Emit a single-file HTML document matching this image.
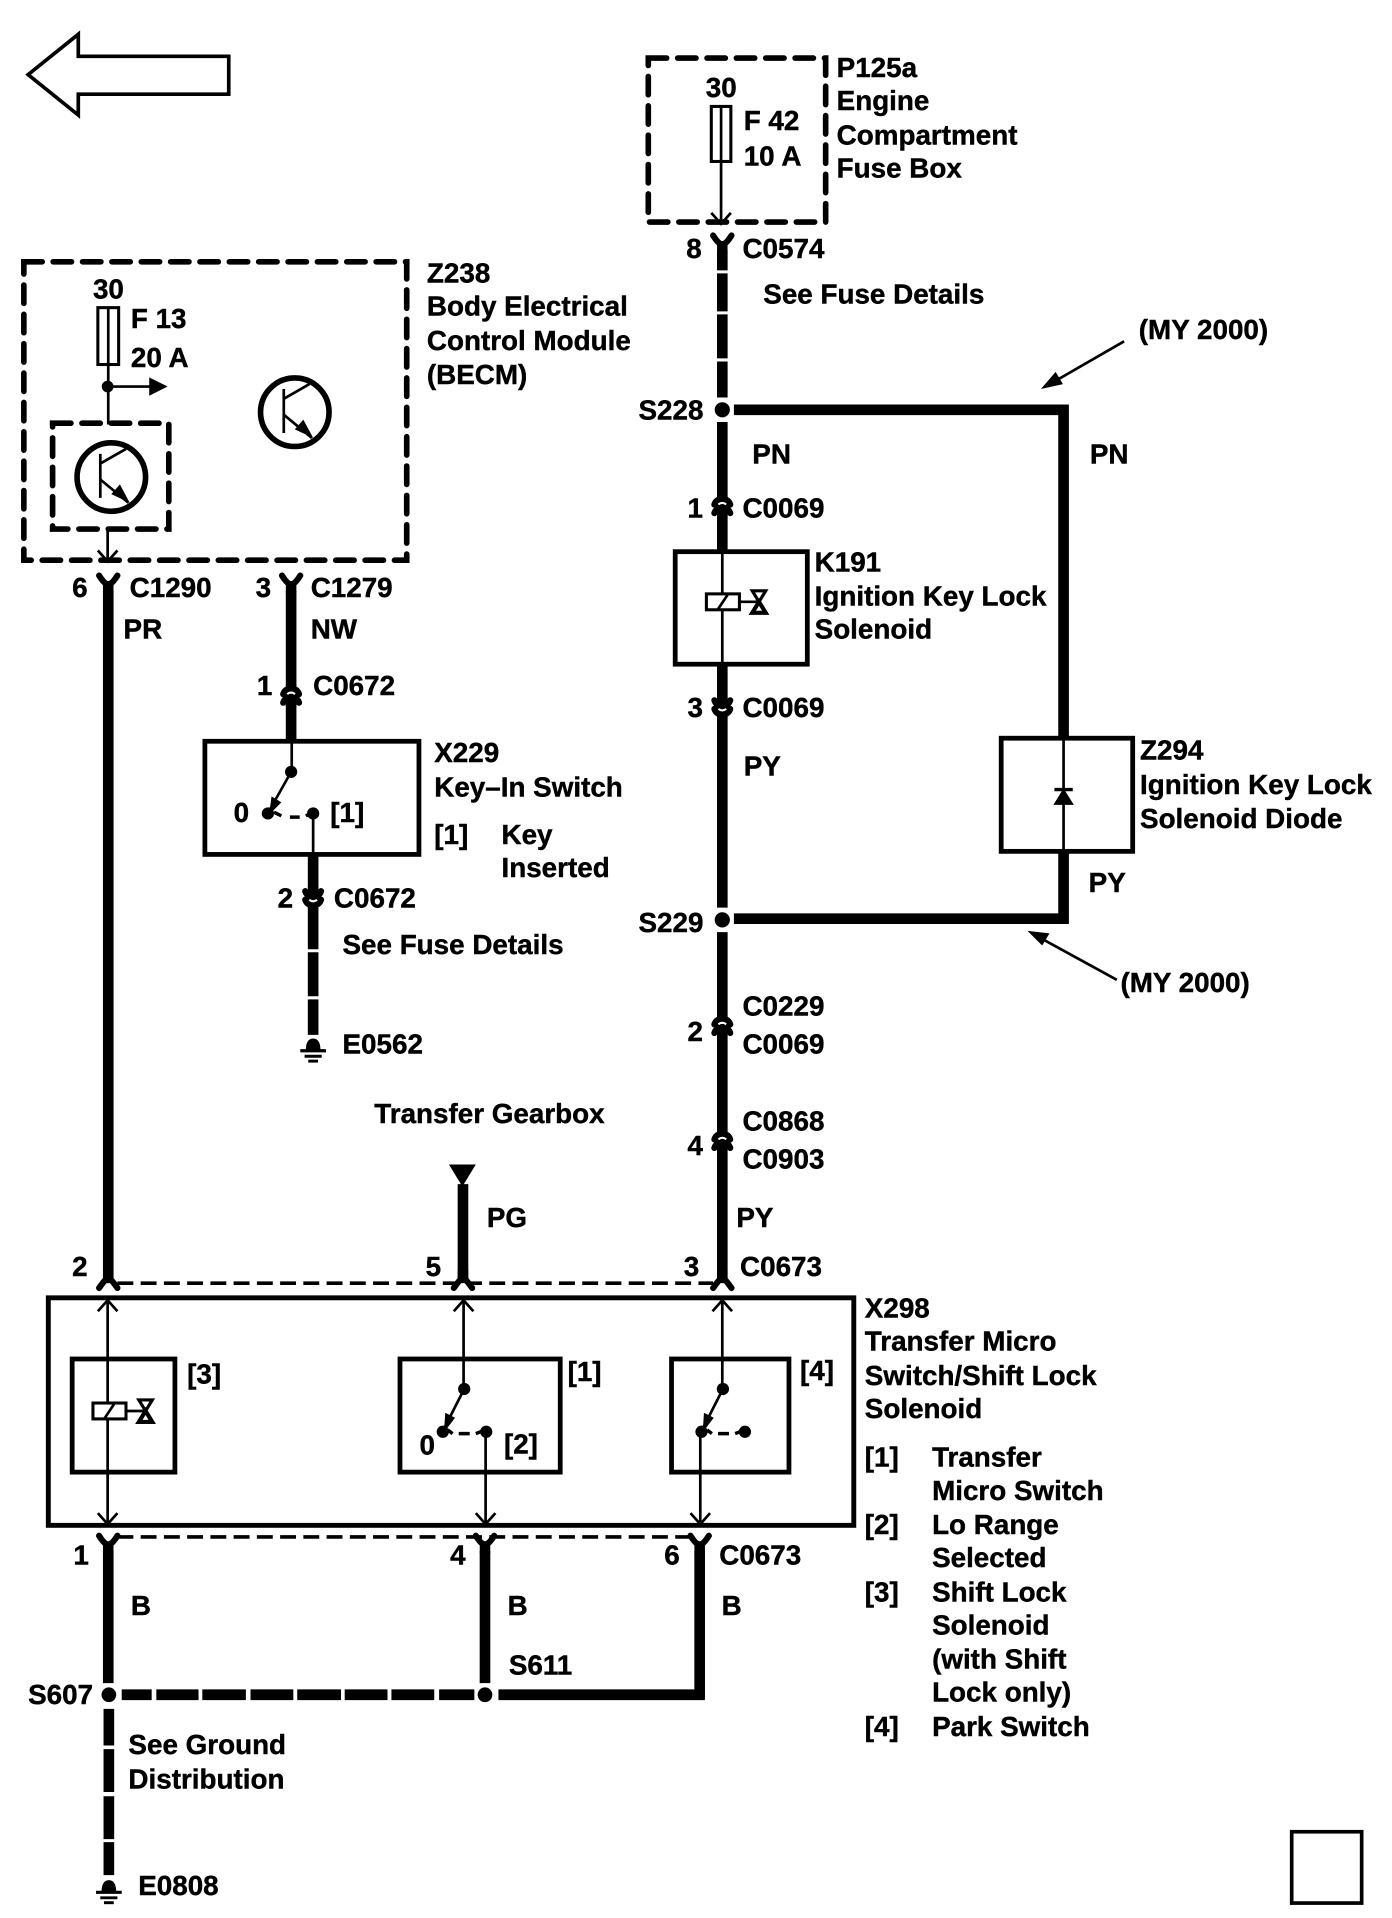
<!DOCTYPE html>
<html>
<head>
<meta charset="utf-8">
<title>Wiring diagram</title>
<style>
html,body{margin:0;padding:0;background:#fff;width:1392px;height:1918px;overflow:hidden}
svg{display:block}
text{font-family:"Liberation Sans",sans-serif;font-weight:700;font-size:22.75px;fill:#000;stroke:#000;stroke-width:.35}
.w{stroke:#000;stroke-width:8.7;fill:none}
.t{stroke:#000;stroke-width:2.2;fill:none}
.d{stroke:#000;stroke-width:4.6;fill:none;stroke-dasharray:15 9;stroke-linecap:round}
.dl{stroke:#000;stroke-width:3;fill:none;stroke-dasharray:13 6}
.c{stroke:#000;stroke-width:5;fill:none;stroke-linecap:round}
</style>
</head>
<body>
<svg width="1392" height="1918" viewBox="0 0 1138 1568" xmlns="http://www.w3.org/2000/svg">
<defs>
<g id="yt"><path class="c" d="M-7.5,-6.5 Q-4,-1 -2,0 M7.5,-6.5 Q4,-1 2,0"/><path d="M-4.3,-2 L4.3,-2 L4.3,8 L-4.3,8Z"/></g>
<g id="yb"><path class="c" d="M-7.5,3 Q-4,-2 -2,-4 M7.5,3 Q4,-2 2,-4"/><path d="M-4.3,-12 L4.3,-12 L4.3,-1 L-4.3,-1Z"/></g>
<g id="uc">
<path d="M-4.3,-9 H4.3 V9 H-4.3Z"/>
<path class="c" stroke-width="4.2" d="M-6.5,-1.5 Q-5,-6 0,-6 Q5,-6 6.5,-1.5"/>
<path class="c" stroke-width="4.2" d="M-6.5,5.5 Q-5,1 0,1 Q5,1 6.5,5.5"/>
<path d="M-3.2,-1.6 Q0,-4 3.2,-1.6" stroke="#fff" stroke-width="1.7" fill="none"/>
</g>
<g id="dc">
<path d="M-4.3,-9 H4.3 V9 H-4.3Z"/>
<path class="c" stroke-width="4.2" d="M-6.5,1.5 Q-5,6 0,6 Q5,6 6.5,1.5"/>
<path class="c" stroke-width="4.2" d="M-6.5,-5.5 Q-5,-1 0,-1 Q5,-1 6.5,-5.5"/>
<path d="M-3.2,1.6 Q0,4 3.2,1.6" stroke="#fff" stroke-width="1.7" fill="none"/>
</g>
<g id="tr">
<circle cx="0" cy="0" r="28" fill="none" stroke="#000" stroke-width="4.6"/>
<path class="t" stroke-width="2.4" d="M-9,-19 V17 M-9,-11 L12,-23"/>
<path class="t" stroke-width="2.8" d="M-9,2 L14,21"/>
<path d="M15,21 L0,14 L7,6Z"/>
</g>
<g id="gnd">
<path d="M-6,10 Q-6,0 0,0 Q6,0 6,10Z"/>
<path d="M-10.5,10 H10.5" stroke="#000" stroke-width="2.6"/>
<path d="M-7,14.5 H7" stroke="#000" stroke-width="2.4"/>
<path d="M-4,18.5 H4" stroke="#000" stroke-width="2.4"/>
</g>
<g id="vdn"><path class="t" stroke-width="2.5" d="M-8,-9 L0,0 L8,-9"/></g>
<g id="vup"><path class="t" stroke-width="2.5" d="M-8,9 L0,0 L8,9"/></g>
<g id="sol">
<rect x="-13.5" y="-6.5" width="27" height="13" fill="#fff" stroke="#000" stroke-width="2.5"/>
<path class="t" stroke-width="2.4" d="M-4,6 L4,-6 M13.5,0 H29"/>
<path d="M29.5,0 L24,-9 H35Z" fill="#fff" stroke="#000" stroke-width="2.6"/>
<path d="M29.5,0 L24,9 H35Z" fill="#fff" stroke="#000" stroke-width="3.4"/>
</g>
</defs>

<!-- top-left arrow -->
<path d="M187,46 H64 V28 L23,61 L64,94 V77 H187Z" fill="none" stroke="#000" stroke-width="3"/>
<!-- bottom-right box -->
<rect x="1056" y="1497.5" width="57.2" height="58.3" fill="none" stroke="#000" stroke-width="3"/>

<!-- P125a fuse box -->
<rect x="530" y="47.5" width="145" height="134" class="d"/>
<rect x="581.5" y="87" width="16" height="45" fill="#fff" stroke="#000" stroke-width="2.5"/>
<path class="t" d="M589.5,87 V182"/>
<use href="#vdn" x="589.5" y="183"/>
<use href="#yt" x="590.5" y="199"/>
<path class="w" d="M590.5,205 V221 M590.5,223.5 V254.5 M590.5,257 V293 M590.5,295.5 V325"/>
<circle cx="590.5" cy="335" r="6.2"/>
<path class="w" d="M600,335 H869.5 V603 M869.5,696 V751 H600"/>
<path class="w" d="M590.5,345 V742"/>
<path class="w" d="M590.5,762 V1045"/>
<circle cx="590.5" cy="752" r="6.2"/>
<!-- connectors on main wire -->
<use href="#uc" x="590.5" y="414"/>
<use href="#dc" x="590.5" y="578"/>
<use href="#uc" x="590.5" y="839"/>
<use href="#uc" x="590.5" y="933"/>

<!-- K191 -->
<rect x="552" y="451" width="108" height="92" fill="#fff" stroke="#000" stroke-width="3.9"/>
<path class="t" stroke-width="2.6" d="M590.5,451 V543"/>
<use href="#sol" x="591" y="492"/>
<!-- Z294 -->
<rect x="818.5" y="603.5" width="107.5" height="92.5" fill="#fff" stroke="#000" stroke-width="3.9"/>
<path class="t" stroke-width="3" d="M869.5,603 V696"/>
<path d="M862,657.5 L869.5,645.5 L877,657.5Z" stroke="#000" stroke-width="1"/>
<path d="M862,645.5 H877" stroke="#000" stroke-width="2.8"/>
<!-- MY arrows -->
<path class="t" stroke-width="2.8" d="M919,279 L860,313"/>
<path d="M851,318 L863,304 L869,314Z"/>
<path class="t" stroke-width="2.8" d="M913,801 L849,766"/>
<path d="M840,761 L858,763 L852,773Z"/>

<!-- Z238 -->
<rect x="19.5" y="214" width="313" height="244" class="d"/>
<rect x="80" y="251.5" width="17" height="46.5" fill="#fff" stroke="#000" stroke-width="2.5"/>
<path class="t" d="M88.5,251 V298"/>
<path class="t" stroke-width="2.6" d="M88.5,298 V347 M88.5,316 H125"/>
<circle cx="88" cy="316" r="4.8"/>
<path d="M137,316 L122,308.5 V323.5Z"/>
<rect x="43" y="346" width="95" height="86.5" class="d"/>
<use href="#tr" x="91" y="390"/>
<use href="#tr" x="241" y="337"/>
<path class="t" d="M88,433 V458"/>
<use href="#vdn" x="88" y="459"/>
<use href="#yt" x="88.5" y="477"/>
<use href="#yt" x="238" y="477"/>
<path class="w" d="M88.5,483 V1045"/>
<path class="w" d="M238,483 V606"/>
<use href="#uc" x="238" y="569"/>

<!-- X229 -->
<rect x="167.5" y="606" width="175" height="92.5" fill="#fff" stroke="#000" stroke-width="3.9"/>
<path class="t" stroke-width="2.6" d="M238.5,606 V631"/>
<circle cx="238" cy="631" r="5"/>
<circle cx="219" cy="665" r="5"/>
<circle cx="256" cy="665" r="5"/>
<path class="t" stroke-width="3" d="M238,631 L220,663"/>
<path d="M220,666 L222,651 L230,656Z"/>
<path d="M224,664 L230,667 M237,668 H245 M250,667 L254,665" stroke="#000" stroke-width="2.8" fill="none"/>
<path class="t" stroke-width="2.6" d="M256,665 V698"/>
<path class="w" d="M256,698 V776 M256,778.5 V814.5 M256,817 V846"/>
<use href="#dc" x="256" y="734"/>
<use href="#gnd" x="256" y="849"/>

<!-- Transfer Gearbox arrow -->
<path d="M367,952 H389 L378,970Z"/>
<path class="w" d="M378.5,968 V1045"/>

<!-- top dashed connector C0673 -->
<path class="dl" d="M96,1049 H583"/>
<use href="#yb" x="88.5" y="1050"/>
<use href="#yb" x="378.5" y="1050"/>
<use href="#yb" x="590.5" y="1050"/>

<!-- X298 -->
<rect x="39.5" y="1061" width="658.5" height="186" fill="#fff" stroke="#000" stroke-width="4"/>
<rect x="59" y="1111" width="84" height="92.5" fill="#fff" stroke="#000" stroke-width="3.9"/>
<rect x="327" y="1111" width="131" height="92.5" fill="#fff" stroke="#000" stroke-width="3.9"/>
<rect x="549" y="1111" width="96" height="92.5" fill="#fff" stroke="#000" stroke-width="3.9"/>
<!-- thin lines -->
<path class="t" d="M88,1062 V1247 M379,1062 V1135 M590.5,1062 V1135 M397,1170 V1247 M572.5,1170 V1247"/>
<use href="#vup" x="88" y="1063"/>
<use href="#vup" x="379" y="1063"/>
<use href="#vup" x="590.5" y="1063"/>
<use href="#vdn" x="88" y="1246"/>
<use href="#vdn" x="397" y="1246"/>
<use href="#vdn" x="572.5" y="1246"/>
<use href="#sol" x="89.5" y="1153.5"/>
<!-- switch 1 -->
<circle cx="379.5" cy="1135.5" r="5"/>
<circle cx="362" cy="1170.5" r="5"/>
<circle cx="397.5" cy="1170.5" r="5"/>
<path class="t" stroke-width="3" d="M379.5,1135.5 L363,1168"/>
<path d="M363,1171 L364,1155 L372,1159Z"/>
<path d="M366,1169 L370,1172 M375,1172 H384 M389,1172 L394,1170" stroke="#000" stroke-width="2.8" fill="none"/>
<!-- switch 4 -->
<circle cx="591" cy="1135.5" r="5"/>
<circle cx="573.5" cy="1170.5" r="5"/>
<circle cx="609" cy="1170.5" r="5"/>
<path class="t" stroke-width="3" d="M591,1135.5 L574.5,1168"/>
<path d="M574.5,1171 L575.5,1155 L583.5,1159Z"/>
<path d="M578,1169 L582,1172 M587,1172 H596 M601,1172 L606,1170" stroke="#000" stroke-width="2.8" fill="none"/>

<!-- bottom dashed connector -->
<path class="dl" d="M96,1256.5 H565"/>
<use href="#yt" x="88.5" y="1262"/>
<use href="#yt" x="396.5" y="1262"/>
<use href="#yt" x="572" y="1262"/>
<path class="w" d="M88.5,1268 V1376"/>
<path class="w" d="M396.5,1268 V1376"/>
<path class="w" d="M572,1268 V1389.5"/>
<path class="w" d="M99.5,1385.5 H124 M127.8,1385.5 H162.3 M165.4,1385.5 H201 M204.8,1385.5 H239.8 M243,1385.5 H278.8 M281.8,1385.5 H316.8 M320,1385.5 H355 M359,1385.5 H387.8 M407.5,1385.5 H576"/>
<circle cx="89" cy="1385.5" r="6"/>
<circle cx="396.5" cy="1385.5" r="6"/>
<path class="w" d="M89,1397 V1427 M89,1430 V1465 M89,1468.5 V1503.5 M89,1506 V1533"/>
<use href="#gnd" x="89" y="1537"/>

<!-- text -->
<g transform="translate(0,-0.9)">
<text x="684" y="64">P125a</text>
<text x="684" y="91">Engine</text>
<text x="684" y="119">Compartment</text>
<text x="684" y="146">Fuse Box</text>
<text x="577" y="80">30</text>
<text x="608" y="107">F 42</text>
<text x="608" y="136">10 A</text>
<text x="561" y="212">8</text>
<text x="607" y="212">C0574</text>
<text x="624" y="249">See Fuse Details</text>
<text x="349" y="232">Z238</text>
<text x="349" y="259">Body Electrical</text>
<text x="349" y="287">Control Module</text>
<text x="349" y="315">(BECM)</text>
<text x="76" y="245">30</text>
<text x="107" y="269">F 13</text>
<text x="107" y="301">20 A</text>
<text x="59" y="489">6</text>
<text x="106" y="489">C1290</text>
<text x="209" y="489">3</text>
<text x="254" y="489">C1279</text>
<text x="101" y="523">PR</text>
<text x="254" y="523">NW</text>
<text x="931" y="278">(MY 2000)</text>
<text x="615" y="380">PN</text>
<text x="891" y="380">PN</text>
<text x="522" y="344">S228</text>
<text x="562" y="424">1</text>
<text x="607" y="424">C0069</text>
<text x="666" y="468">K191</text>
<text x="666" y="496">Ignition Key Lock</text>
<text x="666" y="523">Solenoid</text>
<text x="562" y="587">3</text>
<text x="607" y="587">C0069</text>
<text x="608" y="635">PY</text>
<text x="932" y="622">Z294</text>
<text x="932" y="650">Ignition Key Lock</text>
<text x="932" y="678">Solenoid Diode</text>
<text x="890" y="730">PY</text>
<text x="522" y="763">S229</text>
<text x="916" y="812">(MY 2000)</text>
<text x="210" y="569">1</text>
<text x="256" y="569">C0672</text>
<text x="355" y="624">X229</text>
<text x="355" y="652">Key–In Switch</text>
<text x="191" y="673">0</text>
<text x="270" y="673">[1]</text>
<text x="355" y="691">[1]</text>
<text x="410" y="691">Key</text>
<text x="410" y="718">Inserted</text>
<text x="227" y="743">2</text>
<text x="273" y="743">C0672</text>
<text x="280" y="781">See Fuse Details</text>
<text x="280" y="862">E0562</text>
<text x="607" y="831">C0229</text>
<text x="562" y="852">2</text>
<text x="607" y="862">C0069</text>
<text x="607" y="925">C0868</text>
<text x="562" y="945">4</text>
<text x="607" y="956">C0903</text>
<text x="306" y="919">Transfer Gearbox</text>
<text x="398" y="1004">PG</text>
<text x="602" y="1004">PY</text>
<text x="59" y="1044">2</text>
<text x="348" y="1044">5</text>
<text x="559" y="1044">3</text>
<text x="605" y="1044">C0673</text>
<text x="707" y="1078">X298</text>
<text x="707" y="1105">Transfer Micro</text>
<text x="707" y="1133">Switch/Shift Lock</text>
<text x="707" y="1160">Solenoid</text>
<text x="153" y="1132">[3]</text>
<text x="464" y="1130">[1]</text>
<text x="654" y="1129">[4]</text>
<text x="343" y="1190">0</text>
<text x="412" y="1189">[2]</text>
<text x="707" y="1200">[1]</text>
<text x="762" y="1200">Transfer</text>
<text x="762" y="1227">Micro Switch</text>
<text x="707" y="1255">[2]</text>
<text x="762" y="1255">Lo Range</text>
<text x="762" y="1282">Selected</text>
<text x="707" y="1310">[3]</text>
<text x="762" y="1310">Shift Lock</text>
<text x="762" y="1337">Solenoid</text>
<text x="762" y="1365">(with Shift</text>
<text x="762" y="1392">Lock only)</text>
<text x="707" y="1420">[4]</text>
<text x="762" y="1420">Park Switch</text>
<text x="60" y="1280">1</text>
<text x="368" y="1280">4</text>
<text x="543" y="1280">6</text>
<text x="588" y="1280">C0673</text>
<text x="107" y="1321">B</text>
<text x="415" y="1321">B</text>
<text x="590" y="1321">B</text>
<text x="416" y="1370">S611</text>
<text x="23" y="1394">S607</text>
<text x="105" y="1435">See Ground</text>
<text x="105" y="1463">Distribution</text>
<text x="113" y="1550">E0808</text>
</g>
</svg>
</body>
</html>
